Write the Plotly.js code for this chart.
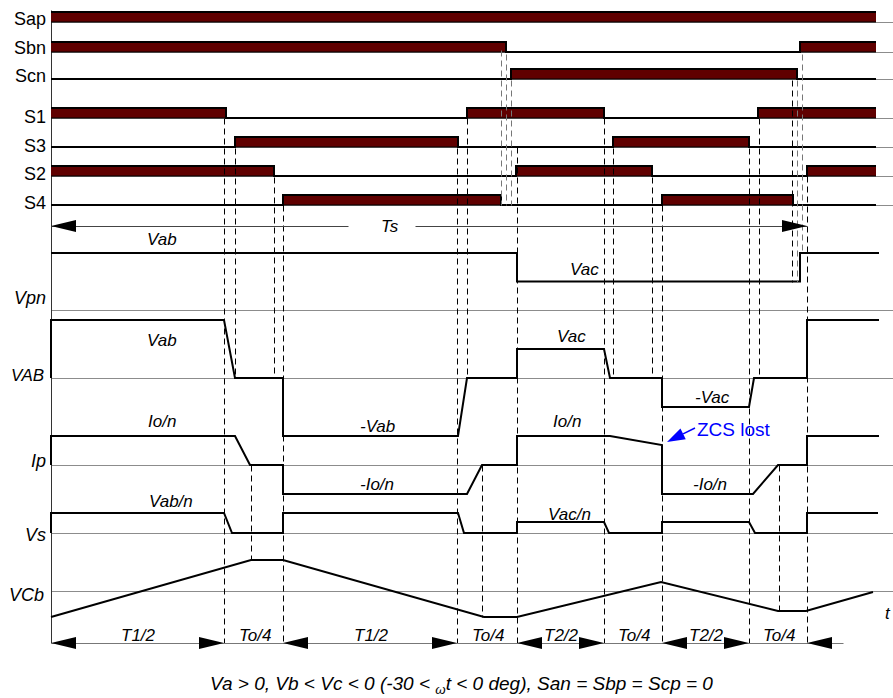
<!DOCTYPE html>
<html><head><meta charset="utf-8">
<script src="https://cdn.plot.ly/plotly-3.0.1.min.js"></script>
<style>html,body{margin:0;padding:0;background:#fff}#chart{width:893px;height:698px}</style>
</head><body><div id="chart"></div>
<script>
// ================= DATA =================
// switching states: on-intervals [start, end] along the time axis
const switchNames = ['Sap','Sbn','Scn','S1','S3','S2','S4'];
const sapOn = [[51,876]];
const sbnOn = [[51,506],[800,876]];
const scnOn = [[511,797]];
const s1On  = [[51,226],[467,604],[758,876]];
const s3On  = [[235,458],[613,749]];
const s2On  = [[51,274],[516,652],[807,876]];
const s4On  = [[283,501],[662,793]];
const switchEnd = 876;

// waveforms: time instants and normalised values
const vpnT = [51,517,517,800,800,879];
const vpnV = [1,1,0.5,0.5,1,1];
const vabT = [51,51,224,235,283,283,458,467,517,517,604,610,662,662,749,754,807,807,879];
const vabV = [0,1,1,0,0,-1,-1,0,0,0.5,0.5,0,0,-0.5,-0.5,0,0,1,1];
const ipT  = [51,51,235,250,283,283,467,482,517,517,610,662,662,753,778,807,807,879];
const ipV  = [0,1,1,0,0,-1,-1,0,0,1,1,0.69,-1,-1,0,0,1,1];
const vsT  = [51,51,224,232,283,283,458,464,517,517,604,609,662,662,749,755,807,807,878];
const vsV  = [0,1,1,0,0,1,1,0,0,0.55,0.55,0,0,0.55,0.55,0,0,1,1];
const vcbT = [51,251,283,484,517,661,778,806,873];
const vcbV = [-26,31,31,-26,-26,9,-20,-20,-1];

// interval boundaries and labels along the bottom
const intervalT = [51,224,283,457,517,604,662,749,807];
const intervalLabels = ['T1/2','To/4','T1/2','To/4','T2/2','To/4','T2/2','To/4'];
const intervalArrowed = [true,false,true,false,true,false,true,false];

// ================= LAYOUT =================
const FONT = 'Liberation Sans, Arial, Helvetica, sans-serif';
const swBase = [22,52,79,118,147,176,205];
const swOn = [sapOn,sbnOn,scnOn,s1On,s3On,s2On,s4On];
const swLabelY = [19,48,76,117,146,174,203];
const barH = 10;
const MAROON = '#600000';
const X0 = 51, XR = 893;
const rowVpn = 310, rowVAB = 378, rowIp = 465, rowVs = 533, rowVCb = 591;
const tsY = 226, botY = 643;
const H = 0.5; // half-pixel alignment for hairlines

const traces = [];
const ann = [];

function line(xs, ys, color, width, dash) {
  traces.push({x: xs, y: ys, mode: 'lines', hoverinfo: 'skip',
    line: {color: color, width: width, dash: dash || 'solid'}});
}
function hair(xs, ys, color, dash) {
  line(xs.map(v => v + H), ys.map(v => v + H), color, 1, dash);
}
function poly(xs, ys, fill) {
  traces.push({x: xs, y: ys, mode: 'lines', fill: 'toself', fillcolor: fill,
    hoverinfo: 'skip', line: {width: 0, color: fill}});
}
function arrowH(tipX, y, dir, len, half) {
  const b = tipX - dir * len;
  poly([tipX, b, b, tipX], [y, y - half, y + half, y], '#000');
}

// thin grey row axes
swBase.forEach(b => hair([X0, XR], [b, b], '#8c8c8c'));
[rowVpn, rowVAB, rowIp, rowVs, rowVCb].forEach(b => hair([X0, XR], [b, b], '#8c8c8c'));

// left vertical axis
hair([X0, X0], [10, botY], '#333');

// switching bars
swOn.forEach((on, i) => {
  const base = swBase[i];
  on.forEach(([a, b]) => {
    poly([a, a, b, b, a], [base, base - barH, base - barH, base, base], MAROON);
  });
  const xs = [X0], ys = [on[0][0] <= X0 ? base - barH : base];
  on.forEach(([a, b]) => {
    if (a > X0) { xs.push(a, a); ys.push(base, base - barH); }
    if (b < switchEnd) { xs.push(b, b); ys.push(base - barH, base); }
    else { xs.push(b); ys.push(base - barH); }
  });
  if (xs[xs.length - 1] < switchEnd) { xs.push(switchEnd); ys.push(base); }
  line(xs, ys, '#000', 2);
  line([X0, switchEnd], [base, base], '#000', 1.2);
});

// waveforms (value -> pixel via row axis and per-row scale)
function wave(ts, vs, row, scale) {
  line(ts, vs.map(v => row - v * scale), '#000', 2);
}
wave(vpnT, vpnV, rowVpn, 57);
wave(vabT, vabV, rowVAB, 58);
wave(ipT, ipV, rowIp, 29);
wave(vsT, vsV, rowVs, 20);
wave(vcbT, vcbV, rowVCb, 1);

// dashed guides [x, yTop, yBottom, grey?]
const guides = [
  [224,118,botY,0],[235,148,rowVAB,0],[251,rowIp,560,0],[274,177,rowVAB,0],[283,205,botY,0],
  [457,148,botY,0],[467,118,rowVAB,0],[482,rowIp,617,0],
  [501,50,205,1],[506,54,205,1],[511,80,205,1],[517,147,botY,0],
  [604,118,botY,0],[613,148,rowVAB,0],[652,177,rowVAB,0],[662,205,botY,0],
  [749,148,botY,0],[759,118,rowVAB,0],[779,rowIp,611,0],
  [792,80,282,0],[797,80,282,1],[802,54,253,1],[807,176,botY,0]
];
guides.forEach(g => hair([g[0], g[0]], [g[1], g[2]], g[3] ? '#777' : '#000', '6px,4px'));

// Ts arrow
hair([X0, 348], [tsY, tsY], '#444');
hair([415, 807], [tsY, tsY], '#444');
arrowH(X0, tsY, -1, 25, 6);
arrowH(807, tsY, 1, 25, 6);

// bottom interval arrows
hair([X0, 843], [botY, botY], '#777');
for (let i = 0; i < intervalLabels.length; i++) {
  const a = intervalT[i], b = intervalT[i + 1];
  if (intervalArrowed[i]) { arrowH(a, botY, -1, 25, 6); arrowH(b, botY, 1, 25, 6); }
  ann.push({x: (a + b) / 2 + 1, y: 635, text: '<i>' + intervalLabels[i] + '</i>', size: 17});
}
arrowH(807, botY, -1, 25, 6);

// ZCS lost arrow
(function () {
  const tx = 667, ty = 442, sx = 695, sy = 428;
  const dx = tx - sx, dy = ty - sy, L = Math.hypot(dx, dy);
  const ux = dx / L, uy = dy / L, len = 18, half = 6;
  const bx = tx - ux * len, by = ty - uy * len;
  line([sx, bx], [sy, by], '#0000ff', 1.5);
  traces.push({x: [tx, bx - uy * half, bx + uy * half, tx], y: [ty, by + ux * half, by - ux * half, ty],
    mode: 'lines', fill: 'toself', fillcolor: '#0000ff', hoverinfo: 'skip', line: {width: 0, color: '#0000ff'}});
})();

// ---------- text ----------
switchNames.forEach((n, i) => ann.push({x: 48, y: swLabelY[i], text: n, size: 18, xanchor: 'right'}));
ann.push({x: 48, y: 298, text: '<i>Vpn</i>', size: 18, xanchor: 'right'});
ann.push({x: 46, y: 375, text: '<i>VAB</i>', size: 17, xanchor: 'right'});
ann.push({x: 48, y: 461, text: '<i>Ip</i>', size: 18, xanchor: 'right'});
ann.push({x: 48, y: 535, text: '<i>Vs</i>', size: 18, xanchor: 'right'});
ann.push({x: 46, y: 595, text: '<i>VCb</i>', size: 18, xanchor: 'right'});

[['Vab',162,239],['Vac',584,269],['Vab',162,340],['-Vab',377,426],['Vac',571,336],['-Vac',712,397],
 ['Io/n',162,421],['-Io/n',377,484],['Io/n',567,421],['-Io/n',710,484],['Vab/n',171,501],['Vac/n',569,514],
 ['Ts',390,226]].forEach(a => ann.push({x: a[1], y: a[2], text: '<i>' + a[0] + '</i>', size: 17}));
ann.push({x: 888, y: 613, text: '<i>t</i>', size: 17});
ann.push({x: 734, y: 429, text: 'ZCS lost', size: 19, color: '#0000ff'});
ann.push({x: 461, y: 685, text: '<i>Va &gt; 0, Vb &lt; Vc &lt; 0 (-30 &lt; <sub>ω</sub>t &lt; 0 deg), San = Sbp = Scp = 0</i>', size: 19});

const annotations = ann.map(a => ({
  x: a.x, y: a.y, xref: 'x', yref: 'y', text: a.text, showarrow: false,
  xanchor: a.xanchor || 'center', yanchor: 'middle',
  font: {family: FONT, size: a.size, color: a.color || '#000'}
}));

const layout = {
  width: 893, height: 698, margin: {l: 0, r: 0, t: 0, b: 0},
  paper_bgcolor: '#fff', plot_bgcolor: '#fff', showlegend: false,
  xaxis: {range: [0, 893], visible: false, fixedrange: true},
  yaxis: {range: [698, 0], visible: false, fixedrange: true},
  annotations: annotations
};
Plotly.newPlot('chart', traces, layout, {staticPlot: true, displayModeBar: false});
</script></body></html>
